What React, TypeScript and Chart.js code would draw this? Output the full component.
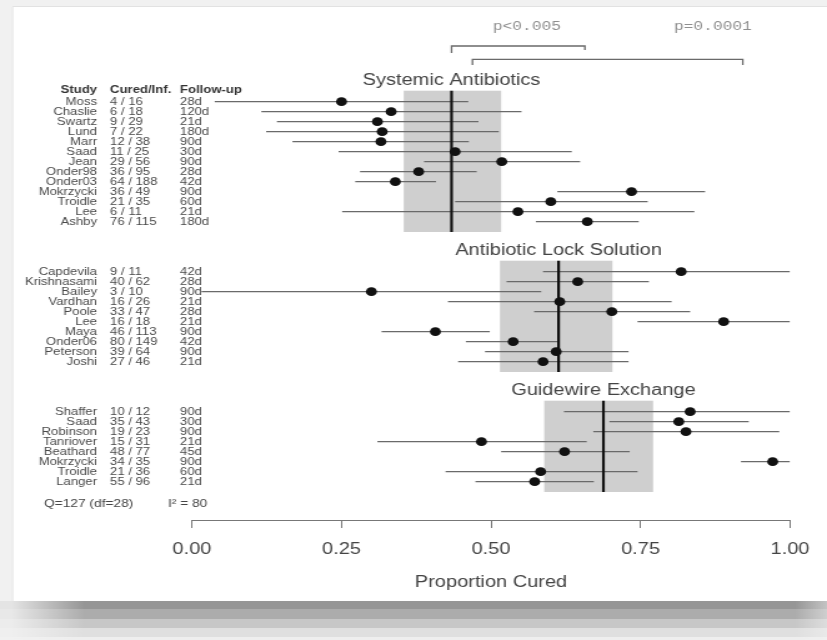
import React, { useEffect, useRef } from 'react';
import { Chart, registerables } from 'chart.js';
Chart.register(...registerables);

// ---------- DATA ----------
const sysStudies = ['Moss', 'Chaslie', 'Swartz', 'Lund', 'Marr', 'Saad', 'Jean', 'Onder98', 'Onder03', 'Mokrzycki', 'Troidle', 'Lee', 'Ashby'];
const sysCured = ['4 / 16', '6 / 18', '9 / 29', '7 / 22', '12 / 38', '11 / 25', '29 / 56', '36 / 95', '64 / 188', '36 / 49', '21 / 35', '6 / 11', '76 / 115'];
const sysFollow = ['28d', '120d', '21d', '180d', '90d', '30d', '90d', '28d', '42d', '90d', '60d', '21d', '180d'];
const sysEst = [0.25, 0.333, 0.31, 0.318, 0.316, 0.44, 0.518, 0.379, 0.34, 0.735, 0.6, 0.545, 0.661];
const sysLo = [0.038, 0.116, 0.142, 0.124, 0.168, 0.245, 0.388, 0.281, 0.273, 0.611, 0.44, 0.251, 0.575];
const sysHi = [0.462, 0.551, 0.479, 0.513, 0.463, 0.635, 0.649, 0.476, 0.408, 0.858, 0.762, 0.84, 0.747];

const lockStudies = ['Capdevila', 'Krishnasami', 'Bailey', 'Vardhan', 'Poole', 'Lee', 'Maya', 'Onder06', 'Peterson', 'Joshi'];
const lockCured = ['9 / 11', '40 / 62', '3 / 10', '16 / 26', '33 / 47', '16 / 18', '46 / 113', '80 / 149', '39 / 64', '27 / 46'];
const lockFollow = ['42d', '28d', '90d', '21d', '28d', '21d', '90d', '42d', '90d', '21d'];
const lockEst = [0.818, 0.645, 0.3, 0.615, 0.702, 0.889, 0.407, 0.537, 0.609, 0.587];
const lockLo = [0.587, 0.526, 0.016, 0.428, 0.572, 0.745, 0.317, 0.458, 0.49, 0.445];
const lockHi = [1.0, 0.764, 0.584, 0.802, 0.833, 1.0, 0.498, 0.613, 0.73, 0.73];

const guideStudies = ['Shaffer', 'Saad', 'Robinson', 'Tanriover', 'Beathard', 'Mokrzycki', 'Troidle', 'Langer'];
const guideCured = ['10 / 12', '35 / 43', '19 / 23', '15 / 31', '48 / 77', '34 / 35', '21 / 36', '55 / 96'];
const guideFollow = ['90d', '30d', '90d', '21d', '45d', '90d', '60d', '21d'];
const guideEst = [0.833, 0.814, 0.826, 0.484, 0.623, 0.971, 0.583, 0.573];
const guideLo = [0.622, 0.698, 0.671, 0.31, 0.517, 0.918, 0.424, 0.474];
const guideHi = [1.0, 0.931, 0.982, 0.66, 0.732, 1.0, 0.745, 0.672];

const groupTitles = ['Systemic Antibiotics', 'Antibiotic Lock Solution', 'Guidewire Exchange'];
const groupStartRow = [0, 17, 31];
const pooledEst = [0.434, 0.613, 0.688];
const pooledLo = [0.354, 0.515, 0.589];
const pooledHi = [0.517, 0.703, 0.771];

const headers = ['Study', 'Cured/Inf.', 'Follow-up'];
const heterogeneity = ['Q=127 (df=28)', 'I\u00B2 = 80'];

const pLabels = ['p<0.005', 'p=0.0001'];
const bracketFrom = [0.434, 0.469];
const bracketTo = [0.657, 0.921];

const xTicks = [0, 0.25, 0.5, 0.75, 1];
const xTitle = 'Proportion Cured';

// ---------- LAYOUT (internal canvas coords; canvas stretched horizontally) ----------
const W = 662;
const H = 640;
const SX = 827 / W;
const FONT = '"Liberation Sans", Arial, Helvetica, sans-serif';
const MONO = '"Liberation Mono", "DejaVu Sans Mono", monospace';

const groups = [
  { studies: sysStudies, cured: sysCured, follow: sysFollow, est: sysEst, lo: sysLo, hi: sysHi },
  { studies: lockStudies, cured: lockCured, follow: lockFollow, est: lockEst, lo: lockLo, hi: lockHi },
  { studies: guideStudies, cured: guideCured, follow: guideFollow, est: guideEst, lo: guideLo, hi: guideHi },
];

const BOX_TOP = 1.1;
const BOX_BOTTOM = 1.03;

// build datasets
const ciData: any[] = [];
const dotData: any[] = [];
const pooledData: any[] = [];
groups.forEach((g, gi) => {
  const start = groupStartRow[gi];
  g.est.forEach((e, i) => {
    const r = start + i;
    ciData.push({ x: g.lo[i], y: r }, { x: g.hi[i], y: r }, { x: null, y: null });
    dotData.push({ x: e, y: r });
  });
  const last = start + g.est.length - 1;
  pooledData.push(
    { x: pooledEst[gi], y: start - BOX_TOP },
    { x: pooledEst[gi], y: last + BOX_BOTTOM },
    { x: null, y: null }
  );
});

const bracketRow = [-5.57, -4.24];
const bracketTickEnd = [[-4.87, -5.17], [-3.67, -3.67]];
const bracketData: any[] = [];
bracketFrom.forEach((f, i) => {
  bracketData.push(
    { x: f, y: bracketTickEnd[i][0] },
    { x: f, y: bracketRow[i] },
    { x: bracketTo[i], y: bracketRow[i] },
    { x: bracketTo[i], y: bracketTickEnd[i][1] },
    { x: null, y: null }
  );
});

const bgPlugin = {
  id: 'bgFrame',
  beforeDraw(chart: any) {
    const ctx = chart.ctx as CanvasRenderingContext2D;
    ctx.save();
    ctx.fillStyle = '#f1f1f1';
    ctx.fillRect(0, 0, W, H);
    ctx.fillStyle = '#ffffff';
    ctx.fillRect(12 / SX, 6, W - 12 / SX, 595);
    ctx.strokeStyle = '#e2e2e2';
    ctx.lineWidth = 1;
    ctx.beginPath();
    ctx.moveTo(12 / SX + 0.5, 601);
    ctx.lineTo(12 / SX + 0.5, 6.5);
    ctx.lineTo(W, 6.5);
    ctx.stroke();
    const bands: [number, number, number][] = [
      [601, 609, 0x96],
      [609, 619, 0xac],
      [619, 628, 0xc7],
      [628, 637, 0xdf],
      [637, 640, 0xee],
    ];
    bands.forEach(([y0, y1, c]) => {
      const g = ctx.createLinearGradient(0, 0, W, 0);
      const light = Math.round(c + (0xf2 - c) * 0.85);
      const lr = Math.round(c + (0xf2 - c) * 0.5);
      g.addColorStop(0, `rgb(${light},${light},${light})`);
      g.addColorStop(12 / 827, `rgb(${light},${light},${light})`);
      g.addColorStop(85 / 827, `rgb(${c},${c},${c})`);
      g.addColorStop(795 / 827, `rgb(${c},${c},${c})`);
      g.addColorStop(1, `rgb(${lr},${lr},${lr})`);
      ctx.fillStyle = g;
      ctx.fillRect(0, y0, W, y1 - y0);
    });
    ctx.restore();
  },
};

const boxPlugin = {
  id: 'pooledBoxes',
  beforeDatasetsDraw(chart: any) {
    const { ctx, scales } = chart;
    const x = scales.x;
    const y = scales.y;
    ctx.save();
    ctx.fillStyle = '#cfcfcf';
    groups.forEach((g, gi) => {
      const start = groupStartRow[gi];
      const last = start + g.est.length - 1;
      const x0 = x.getPixelForValue(pooledLo[gi]);
      const x1 = x.getPixelForValue(pooledHi[gi]);
      const y0 = y.getPixelForValue(start - BOX_TOP);
      const y1 = y.getPixelForValue(last + BOX_BOTTOM);
      ctx.fillRect(x0, y0, x1 - x0, y1 - y0);
    });
    ctx.restore();
  },
};

const COL_STUDY_RIGHT = 97 / SX;
const COL_CURED_LEFT = 110 / SX;
const COL_FOLLOW_LEFT = 180 / SX;

const textPlugin = {
  id: 'forestText',
  afterDraw(chart: any) {
    const { ctx, scales } = chart;
    const x = scales.x;
    const y = scales.y;
    ctx.save();
    ctx.textBaseline = 'middle';
    groups.forEach((g, gi) => {
      const start = groupStartRow[gi];
      ctx.font = `16px ${FONT}`;
      ctx.fillStyle = '#444';
      ctx.textAlign = 'center';
      ctx.fillText(groupTitles[gi], x.getPixelForValue(pooledEst[gi]), y.getPixelForValue(start - 2.1));
      if (gi === 0) {
        const hy = y.getPixelForValue(start - 1.17);
        ctx.font = `bold 10.5px ${FONT}`;
        ctx.fillStyle = '#333';
        ctx.textAlign = 'right';
        ctx.fillText(headers[0], COL_STUDY_RIGHT, hy);
        ctx.textAlign = 'left';
        ctx.fillText(headers[1], COL_CURED_LEFT, hy);
        ctx.fillText(headers[2], COL_FOLLOW_LEFT, hy);
      }
      ctx.font = `10.5px ${FONT}`;
      ctx.fillStyle = '#4a4a4a';
      g.studies.forEach((s, i) => {
        const py = y.getPixelForValue(start + i);
        ctx.textAlign = 'right';
        ctx.fillText(s, COL_STUDY_RIGHT, py);
        ctx.textAlign = 'left';
        ctx.fillText(g.cured[i], COL_CURED_LEFT, py);
        ctx.fillText(g.follow[i], COL_FOLLOW_LEFT, py);
      });
    });
    // heterogeneity
    ctx.font = `11px ${FONT}`;
    ctx.fillStyle = '#444';
    ctx.textAlign = 'left';
    const qy = y.getPixelForValue(40.23);
    ctx.fillText(heterogeneity[0], 44 / SX, qy);
    ctx.fillText(heterogeneity[1], 168 / SX, qy);
    // p-values
    ctx.font = `13px ${MONO}`;
    ctx.fillStyle = '#8f8f8f';
    ctx.textAlign = 'center';
    const py = y.getPixelForValue(-7.47);
    ctx.fillText(pLabels[0], x.getPixelForValue(0.56), py);
    ctx.fillText(pLabels[1], x.getPixelForValue(0.871), py);
    ctx.restore();
  },
};

export default function App() {
  const ref = useRef<HTMLCanvasElement>(null);
  useEffect(() => {
    const canvas = ref.current!;
    const chart = new Chart(canvas, {
      type: 'scatter',
      data: {
        datasets: [
          {
            label: 'Study estimate',
            data: dotData,
            pointRadius: 4.4,
            pointBackgroundColor: '#111',
            pointBorderWidth: 0,
            order: 0,
          } as any,
          {
            label: 'Pooled',
            data: pooledData,
            showLine: true,
            spanGaps: false,
            pointRadius: 0,
            borderColor: '#111',
            borderWidth: 2.2,
            order: 1,
          } as any,
          {
            label: 'CI',
            data: ciData,
            showLine: true,
            spanGaps: false,
            pointRadius: 0,
            borderColor: '#6a6a6a',
            borderWidth: 1.2,
            order: 2,
          } as any,
          {
            label: 'Brackets',
            data: bracketData,
            showLine: true,
            spanGaps: false,
            pointRadius: 0,
            borderColor: '#6a6a6a',
            borderWidth: 1.3,
            clip: false,
            order: 3,
          } as any,
        ],
      },
      options: {
        animation: false,
        responsive: false,
        devicePixelRatio: 1,
        events: [],
        layout: { padding: { left: 192 / SX, right: W - 790 / SX, top: 6, bottom: 0 } },
        plugins: { legend: { display: false }, tooltip: { enabled: false } },
        scales: {
          x: {
            type: 'linear',
            min: 0,
            max: 1,
            afterBuildTicks: (s: any) => {
              s.ticks = xTicks.map((v) => ({ value: v }));
            },
            afterFit: (s: any) => {
              s.height = 120;
            },
            ticks: {
              callback: (v: any) => Number(v).toFixed(2),
              font: { family: FONT, size: 16 },
              color: '#444',
              padding: 12,
              maxRotation: 0,
            },
            grid: { drawOnChartArea: false, drawTicks: true, tickLength: 8, color: '#777', lineWidth: 1 },
            border: { display: true, color: '#777', width: 1 },
            title: {
              display: true,
              text: xTitle,
              font: { family: FONT, size: 16 },
              color: '#444',
              padding: { top: 0, bottom: 48 },
            },
          },
          y: {
            type: 'linear',
            display: false,
            reverse: true,
            min: -9.57,
            max: 41.83,
          },
        },
      } as any,
      plugins: [bgPlugin, boxPlugin, textPlugin],
    });
    return () => chart.destroy();
  }, []);
  return (
    <div
      style={{
        position: 'fixed',
        left: 0,
        top: 0,
        width: W,
        height: H,
        transform: `scaleX(${SX})`,
        transformOrigin: '0 0',
      }}
    >
      <canvas ref={ref} width={W} height={H} style={{ width: W, height: H, display: 'block' }} />
    </div>
  );
}
